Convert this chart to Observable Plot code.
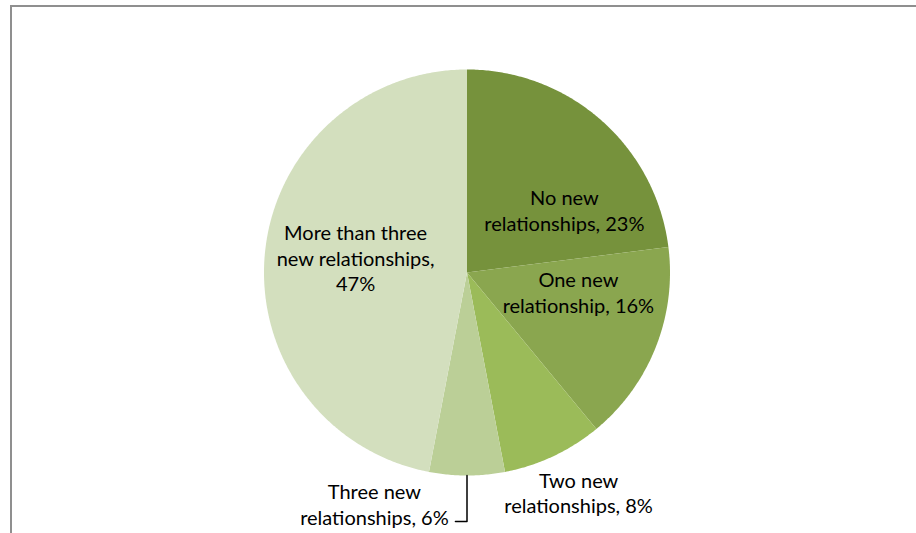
<!DOCTYPE html>
<html>
<head>
<meta charset="utf-8">
<script src="https://cdn.jsdelivr.net/npm/d3@7"></script>
<script src="https://cdn.jsdelivr.net/npm/@observablehq/plot@0.6"></script>
<style>
  html, body { margin: 0; padding: 0; background: #fff; }
  #wrap { position: relative; width: 916px; height: 533px; overflow: hidden; }
  #frame { position: absolute; left: 10px; top: 5px; width: 1000px; height: 1000px;
           border-top: 2px solid #8f8f8f; border-left: 2px solid #8f8f8f; }
  #chart { position: absolute; left: 0; top: 0; }
</style>
</head>
<body>
<div id="wrap"><div id="frame"></div><div id="chart"></div></div>
<script>
// ---- data ----
const categories = [
  "No new relationships",
  "One new relationship",
  "Two new relationships",
  "Three new relationships",
  "More than three new relationships"
];
const shares = [23, 16, 8, 6, 47];
const colors = ["#76923c", "#8aa64f", "#9bbb59", "#bbcf97", "#d3dfbe"];
// words after which each data label wraps to a new line
const labelBreaks = [[2], [2], [2], [2], [3, 5]];
// label layout: angle shift from slice middle (deg) and radius factor
const labelAngleShift = [15.9, -11.7, -1.7, 21.8, 2.3];
const labelRadius = [0.57, 0.557, 1.215, 1.228, 0.554];

// ---- geometry (unit circle, clockwise from 12 o'clock) ----
const total = d3.sum(shares);
let acc = 0;
const slices = categories.map((c, i) => {
  const a0 = acc / total * 2 * Math.PI;
  acc += shares[i];
  const a1 = acc / total * 2 * Math.PI;
  return {category: c, share: shares[i], a0, a1, mid: (a0 + a1) / 2, i};
});
const pt = (a, r) => [r * Math.sin(a), r * Math.cos(a)];

const features = slices.map(s => {
  const n = Math.max(2, Math.ceil((s.a1 - s.a0) / (Math.PI / 360)));
  const ring = [[0, 0]];
  for (let k = 0; k <= n; k++) ring.push(pt(s.a0 + (s.a1 - s.a0) * k / n, 1));
  ring.push([0, 0]);
  return {type: "Feature", properties: {category: s.category},
          geometry: {type: "Polygon", coordinates: [ring]}};
});

const circle = {type: "Polygon", coordinates: [d3.range(0, 361).map(d => pt(d * Math.PI / 180, 1))]};

const wrapLabel = (s) => {
  const words = `${s.category}, ${s.share}%`.split(" ");
  const lines = [];
  let start = 0;
  for (const b of [...labelBreaks[s.i], words.length]) {
    lines.push(words.slice(start, b).join(" "));
    start = b;
  }
  return lines.join("\n");
};

const labels = slices.map(s => {
  const a = s.mid + labelAngleShift[s.i] * Math.PI / 180;
  const [x, y] = pt(a, labelRadius[s.i]);
  return {x, y, text: wrapLabel(s)};
});

// leader line for the small outside label (Three new relationships)
const lead = slices[3];
const p0 = pt(lead.mid, 1.0);
const p1 = pt(lead.mid, 1.227);
const leader = [p0, p1, [p1[0] - 0.057, p1[1]]];

const chart = Plot.plot({
  width: 916,
  height: 533,
  margin: 0,
  projection: {
    type: "reflect-y", domain: circle,
    insetLeft: 263.5, insetRight: 246.5, insetTop: 69, insetBottom: 58
  },
  color: {domain: categories, range: colors},
  style: {background: "transparent"},
  marks: [
    Plot.geo(features, {fill: d => d.properties.category, stroke: "none"}),
    Plot.line(leader, {x: d => d[0], y: d => d[1], stroke: "#000", strokeWidth: 1.5, curve: "linear"}),
    Plot.text(labels, {
      x: "x", y: "y", text: "text",
      fontSize: 20, lineHeight: 1.28,
      fontFamily: "Lato, 'Open Sans', sans-serif",
      fill: "#000", textAnchor: "middle", lineAnchor: "middle"
    })
  ]
});
document.getElementById("chart").appendChild(chart);
</script>
</body>
</html>
